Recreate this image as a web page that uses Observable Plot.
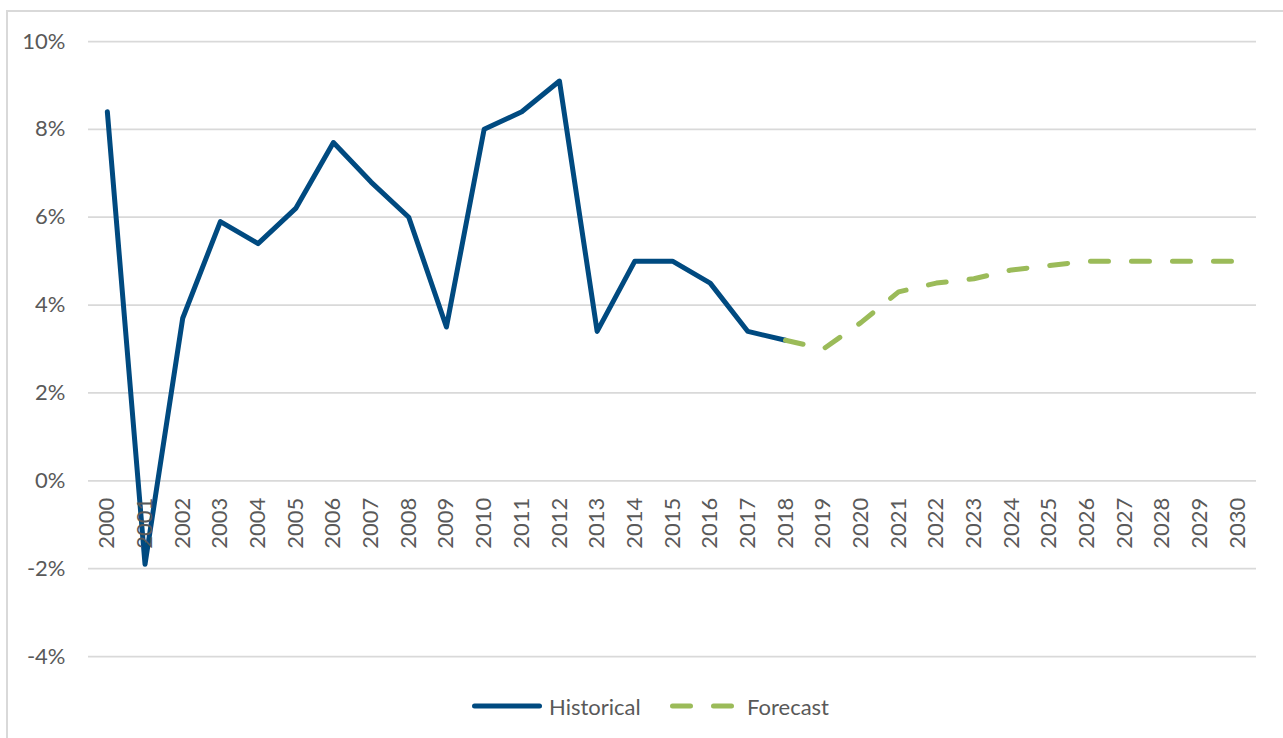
<!DOCTYPE html>
<html>
<head>
<meta charset="utf-8">
<script src="https://cdn.jsdelivr.net/npm/d3@7"></script>
<script src="https://cdn.jsdelivr.net/npm/@observablehq/plot@0.6"></script>
<style>
  html, body { margin: 0; padding: 0; background: #ffffff; overflow: hidden; }
  body { width: 1283px; height: 738px; position: relative; font-family: Lato, "Open Sans", sans-serif; }
  #frame { position: absolute; left: 6px; top: 10px; width: 1400px; height: 900px;
           border: 2px solid #D9D9D9; box-sizing: border-box; }
  #chart { position: absolute; left: 0; top: 0; }
  #legend { position: absolute; left: 0; top: 692px; height: 28px; width: 1283px; }
  .item { position: absolute; top: 0; display: flex; align-items: center; height: 28px;
          font-size: 22px; color: #595959; }
  .item svg { display: block; }
</style>
</head>
<body>
<div id="frame"></div>
<div id="chart"></div>
<div id="legend">
  <div class="item" style="left:469px">
    <svg width="80" height="28"><line x1="5.5" x2="70.5" y1="14" y2="14" stroke="#004A80" stroke-width="5" stroke-linecap="round"/></svg>
    <span id="lab-hist"></span>
  </div>
  <div class="item" style="left:667px">
    <svg width="80" height="28"><line x1="5.5" x2="64.5" y1="14" y2="14" stroke="#9BBB59" stroke-width="5" stroke-linecap="round" stroke-dasharray="18,23"/></svg>
    <span id="lab-fc"></span>
  </div>
</div>
<script>
// Annual growth rate, percent
const histYears  = [2000, 2001, 2002, 2003, 2004, 2005, 2006, 2007, 2008, 2009,
                    2010, 2011, 2012, 2013, 2014, 2015, 2016, 2017, 2018];
const histValues = [8.4, -1.9, 3.7, 5.9, 5.4, 6.2, 7.7, 6.8, 6.0, 3.5,
                    8.0, 8.4, 9.1, 3.4, 5.0, 5.0, 4.5, 3.4, 3.2];

const fcYears  = [2018, 2019, 2020, 2021, 2022, 2023, 2024, 2025, 2026, 2027, 2028, 2029, 2030];
const fcValues = [3.2, 3.0, 3.6, 4.3, 4.5, 4.6, 4.8, 4.9, 5.0, 5.0, 5.0, 5.0, 5.0];

const yearLabels = d3.range(2000, 2031);
const yTicks = [-4, -2, 0, 2, 4, 6, 8, 10];
const seriesNames = ["Historical", "Forecast"];

const historical = histYears.map((year, i) => ({year, value: histValues[i]}));
const forecast = fcYears.map((year, i) => ({year, value: fcValues[i]}));

const textColor = "#595959";

const chart = Plot.plot({
  width: 1283,
  height: 680,
  marginLeft: 88,
  marginRight: 27,
  marginTop: 41,
  marginBottom: 24,
  x: {type: "linear", domain: [1999.5, 2030.5], axis: null},
  y: {domain: [-4, 10], axis: null},
  style: {fontFamily: "Lato, 'Open Sans', sans-serif", fontSize: "22px", color: textColor, background: "transparent"},
  marks: [
    Plot.ruleY(yTicks, {y: d => d, stroke: "#D9D9D9", strokeWidth: 1.75}),
    Plot.text(yTicks, {y: d => d, frameAnchor: "left", text: d => `${d}%`, textAnchor: "end", dx: -23, fill: textColor, fontSize: 22}),
    Plot.line(historical, {x: "year", y: "value", stroke: "#004A80", strokeWidth: 5, strokeLinejoin: "round", strokeLinecap: "round"}),
    Plot.line(forecast, {x: "year", y: "value", stroke: "#9BBB59", strokeWidth: 5, strokeLinejoin: "round", strokeLinecap: "round", strokeDasharray: "18,23"}),
    Plot.text(yearLabels, {x: d => d, y: 0, text: d => String(d), rotate: -90, textAnchor: "end", dy: 17, fill: textColor, fontSize: 22})
  ]
});
document.getElementById("chart").append(chart);
document.getElementById("lab-hist").textContent = seriesNames[0];
document.getElementById("lab-fc").textContent = seriesNames[1];
</script>
</body>
</html>
